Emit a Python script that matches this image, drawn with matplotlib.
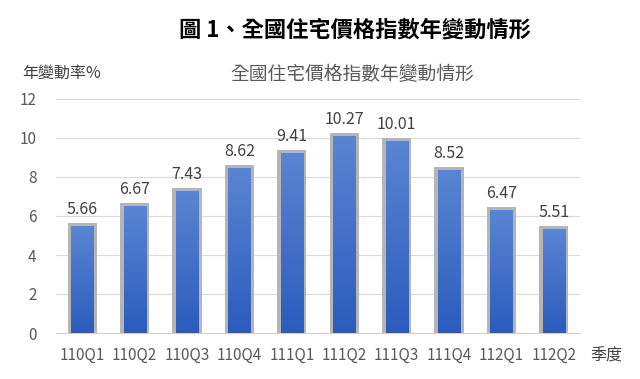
import numpy as np
import matplotlib.pyplot as plt
from matplotlib.patches import Rectangle

plt.rcParams['font.family'] = ['Noto Sans CJK TC', 'DejaVu Sans']

quarters = ['110Q1', '110Q2', '110Q3', '110Q4', '111Q1', '111Q2', '111Q3', '111Q4', '112Q1', '112Q2']
values = [5.66, 6.67, 7.43, 8.62, 9.41, 10.27, 10.01, 8.52, 6.47, 5.51]

fig = plt.figure(figsize=(6.4, 3.79), dpi=100)
ax = fig.add_axes([56/640, 1-333/379, (580-56)/640, (333-99)/379])

x = np.arange(len(values))
w = 0.56
grad = np.linspace(0, 1, 256).reshape(-1, 1)
cmap = plt.matplotlib.colors.LinearSegmentedColormap.from_list('b', ['#2b5cbd', '#5a85d2'])

for xi, v in zip(x, values):
    # gray frame, blue gradient inside
    ax.add_patch(Rectangle((xi - w/2, 0), w, v, facecolor='#b5b5b5', edgecolor='none', zorder=2))
    ax.imshow(grad, extent=(xi - w/2 + 0.07, xi + w/2 - 0.07, 0, v - 0.18), origin='lower',
              cmap=cmap, aspect='auto', zorder=3)
    ax.text(xi, v + 0.25, f'{v:.2f}', ha='center', va='bottom', fontsize=11.5, color='#404040')

ax.set_xlim(-0.5, 9.5)
ax.set_ylim(0, 12)
ax.set_yticks(range(0, 13, 2))
ax.set_xticks(x)
ax.set_xticklabels(quarters)
ax.grid(axis='y', color='#d9d9d9', linewidth=0.8, zorder=0)
ax.set_axisbelow(True)
for s in ['top', 'right', 'left']:
    ax.spines[s].set_visible(False)
ax.spines['bottom'].set_color('#d0d0d0')
ax.tick_params(length=0, labelsize=11, colors='#595959', pad=10)
ax.tick_params(axis='y', pad=14)

fig.text(355/640, 1-30/379, '圖 1、全國住宅價格指數年變動情形', ha='center', va='center',
         fontsize=16, fontweight='bold', color='black')
fig.text(352/640, 1-75/379, '全國住宅價格指數年變動情形', ha='center', va='center',
         fontsize=13.5, color='#595959')
fig.text(22/640, 1-73/379, '年變動率%', ha='left', va='center', fontsize=11.5, color='#404040')
fig.text(590/640, 1-356/379, '季度', ha='left', va='center', fontsize=11.5, color='#404040')

fig.savefig('out.png', dpi=100)
